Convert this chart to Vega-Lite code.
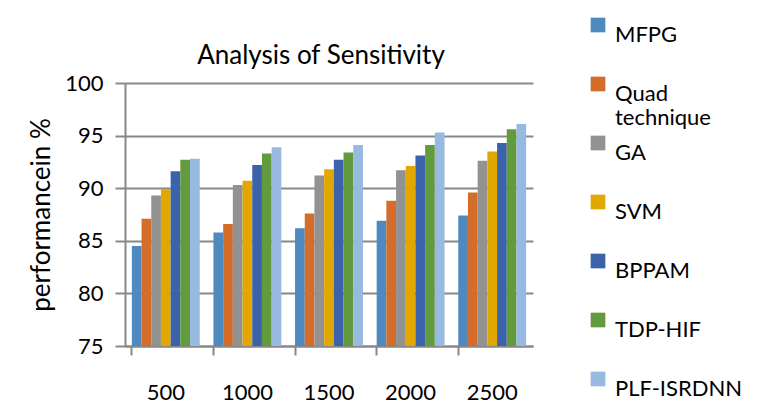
{
  "$schema": "https://vega.github.io/schema/vega-lite/v6.json",
  "autosize": "none",
  "width": 408,
  "height": 263,
  "padding": {"left": 125, "top": 83, "right": 241, "bottom": 72},
  "background": "white",
  "title": {
    "text": "Analysis of Sensitivity",
    "font": "Lato",
    "fontSize": 26,
    "fontWeight": "normal",
    "color": "black",
    "anchor": "middle",
    "frame": "group",
    "offset": 20,
    "dy": 75,
    "dx": -8
  },
  "data": {
    "values": [
      {"Samples": "500", "Method": "MFPG", "Performance": 84.5},
      {"Samples": "500", "Method": "Quad technique", "Performance": 87.1},
      {"Samples": "500", "Method": "GA", "Performance": 89.3},
      {"Samples": "500", "Method": "SVM", "Performance": 89.9},
      {"Samples": "500", "Method": "BPPAM", "Performance": 91.6},
      {"Samples": "500", "Method": "TDP-HIF", "Performance": 92.7},
      {"Samples": "500", "Method": "PLF-ISRDNN", "Performance": 92.8},
      {"Samples": "1000", "Method": "MFPG", "Performance": 85.8},
      {"Samples": "1000", "Method": "Quad technique", "Performance": 86.6},
      {"Samples": "1000", "Method": "GA", "Performance": 90.3},
      {"Samples": "1000", "Method": "SVM", "Performance": 90.7},
      {"Samples": "1000", "Method": "BPPAM", "Performance": 92.2},
      {"Samples": "1000", "Method": "TDP-HIF", "Performance": 93.3},
      {"Samples": "1000", "Method": "PLF-ISRDNN", "Performance": 93.9},
      {"Samples": "1500", "Method": "MFPG", "Performance": 86.2},
      {"Samples": "1500", "Method": "Quad technique", "Performance": 87.6},
      {"Samples": "1500", "Method": "GA", "Performance": 91.2},
      {"Samples": "1500", "Method": "SVM", "Performance": 91.8},
      {"Samples": "1500", "Method": "BPPAM", "Performance": 92.7},
      {"Samples": "1500", "Method": "TDP-HIF", "Performance": 93.4},
      {"Samples": "1500", "Method": "PLF-ISRDNN", "Performance": 94.1},
      {"Samples": "2000", "Method": "MFPG", "Performance": 86.9},
      {"Samples": "2000", "Method": "Quad technique", "Performance": 88.8},
      {"Samples": "2000", "Method": "GA", "Performance": 91.7},
      {"Samples": "2000", "Method": "SVM", "Performance": 92.1},
      {"Samples": "2000", "Method": "BPPAM", "Performance": 93.1},
      {"Samples": "2000", "Method": "TDP-HIF", "Performance": 94.1},
      {"Samples": "2000", "Method": "PLF-ISRDNN", "Performance": 95.3},
      {"Samples": "2500", "Method": "MFPG", "Performance": 87.4},
      {"Samples": "2500", "Method": "Quad technique", "Performance": 89.6},
      {"Samples": "2500", "Method": "GA", "Performance": 92.6},
      {"Samples": "2500", "Method": "SVM", "Performance": 93.5},
      {"Samples": "2500", "Method": "BPPAM", "Performance": 94.3},
      {"Samples": "2500", "Method": "TDP-HIF", "Performance": 95.6},
      {"Samples": "2500", "Method": "PLF-ISRDNN", "Performance": 96.1}
    ]
  },
  "mark": {"type": "bar", "clip": true},
  "encoding": {
    "x": {
      "field": "Samples",
      "type": "nominal",
      "sort": ["500", "1000", "1500", "2000", "2500"],
      "scale": {"paddingInner": 0.168, "paddingOuter": 0.084},
      "axis": {
        "title": null,
        "labelAngle": 0,
        "bandPosition": 0,
        "labelFont": "Lato",
        "labelFontSize": 22,
        "labelColor": "black",
        "labelPadding": 27,
        "tickSize": 9,
        "tickColor": "#888888",
        "tickWidth": 2,
        "domainColor": "#888888",
        "domainWidth": 2
      }
    },
    "xOffset": {
      "field": "Method",
      "type": "nominal",
      "sort": ["MFPG", "Quad technique", "GA", "SVM", "BPPAM", "TDP-HIF", "PLF-ISRDNN"],
      "scale": {"paddingInner": 0, "paddingOuter": 0}
    },
    "y": {
      "field": "Performance",
      "type": "quantitative",
      "scale": {"domain": [75, 100], "zero": false, "nice": false},
      "axis": {
        "title": "performancein %",
        "titleFont": "Lato",
        "titleFontSize": 26,
        "titleFontWeight": "normal",
        "titleColor": "black",
        "titlePadding": 10,
        "values": [75, 80, 85, 90, 95, 100],
        "labelFont": "Lato",
        "labelFontSize": 22,
        "labelColor": "black",
        "labelPadding": 12,
        "tickSize": 10,
        "tickColor": "#888888",
        "tickWidth": 2,
        "domainColor": "#888888",
        "domainWidth": 2,
        "grid": true,
        "gridColor": "#888888",
        "gridWidth": 2
      }
    },
    "color": {
      "field": "Method",
      "type": "nominal",
      "sort": ["MFPG", "Quad technique", "GA", "SVM", "BPPAM", "TDP-HIF", "PLF-ISRDNN"],
      "scale": {
        "domain": ["MFPG", "Quad technique", "GA", "SVM", "BPPAM", "TDP-HIF", "PLF-ISRDNN"],
        "range": ["#4E8AC0", "#D46D29", "#929292", "#E2A700", "#3A63AC", "#629A3E", "#98B9E0"]
      },
      "legend": {
        "title": null,
        "orient": "none",
        "legendX": 462,
        "legendY": -69,
        "symbolType": "square",
        "symbolSize": 216,
        "symbolStrokeWidth": 0,
        "symbolOpacity": 1,
        "labelFont": "Lato",
        "labelFontSize": 22,
        "labelColor": "black",
        "labelBaseline": "top",
        "labelLineHeight": 35,
        "labelOffset": 6,
        "labelLimit": 200,
        "labelExpr": "datum.label == 'Quad technique' ? ['Quad', 'technique'] : datum.label",
        "gridAlign": "all",
        "rowPadding": 3
      }
    }
  },
  "config": {
    "view": {"stroke": null}
  }
}
